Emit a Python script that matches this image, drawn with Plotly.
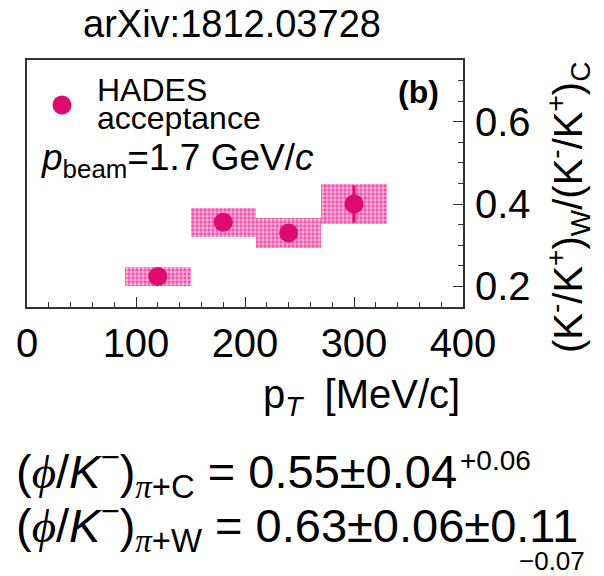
import plotly.graph_objects as go

# ---------------- data ----------------
pt_centers = [120, 180, 240, 300]          # MeV/c
pt_bin_width = [60, 60, 60, 60]            # MeV/c
ratio = [0.224, 0.356, 0.330, 0.400]       # (K-/K+)_W / (K-/K+)_C
stat_err = [0.015, 0.015, 0.015, 0.045]
sys_err = [0.022, 0.035, 0.036, 0.048]

x_ticks = [0, 100, 200, 300, 400]
y_ticks = [0.2, 0.4, 0.6]

MARK = "#DE0A6E"
FONT = "Liberation Sans, Arial, Helvetica, sans-serif"

W, H = 604, 576
L, R, T, B = 27, 463, 60, 307   # plot area in pixels


def px(xp):
    return (xp - L) / (R - L)


def py(yp):
    return (B - yp) / (B - T)


fig = go.Figure()

# systematic boxes
fig.add_trace(go.Bar(
    x=pt_centers,
    y=[2 * s for s in sys_err],
    base=[r - s for r, s in zip(ratio, sys_err)],
    width=pt_bin_width,
    marker=dict(
        color="#FFB3DC",
        line=dict(width=0),
        pattern=dict(shape=".", fgcolor="#F552AC", bgcolor="#FFBEE2",
                     size=4, solidity=0.55, fillmode="replace"),
    ),
    showlegend=False,
    hoverinfo="skip",
))

# points with stat errors
fig.add_trace(go.Scatter(
    x=pt_centers,
    y=ratio,
    mode="markers",
    marker=dict(size=19, color=MARK, line=dict(width=0)),
    error_y=dict(type="data", array=stat_err, color=MARK, thickness=3, width=0),
    showlegend=False,
))

fig.update_layout(
    width=W, height=H,
    margin=dict(l=L, r=W - R, t=T, b=H - B),
    paper_bgcolor="white",
    plot_bgcolor="white",
    barmode="overlay",
    bargap=0,
    font=dict(family=FONT, color="black"),
    xaxis=dict(
        range=[0, 400],
        tickvals=x_ticks,
        ticktext=[str(v) for v in x_ticks],
        ticks="inside", ticklen=10, tickwidth=1.2, tickcolor="#333",
        minor=dict(dtick=20, ticks="inside", ticklen=5, tickwidth=1.2, tickcolor="#333"),
        showline=True, linecolor="#333", linewidth=1.8, mirror=True,
        showgrid=False, zeroline=False,
        tickfont=dict(size=40, family=FONT),
        ticklabelstandoff=0,
    ),
    yaxis=dict(
        range=[0.15, 0.75],
        side="right",
        tickvals=y_ticks,
        ticktext=["0.2", "0.4", "0.6"],
        ticks="inside", ticklen=10, tickwidth=1.2, tickcolor="#333",
        minor=dict(dtick=0.05, tick0=0.0, ticks="inside", ticklen=5, tickwidth=1.2, tickcolor="#333"),
        showline=True, linecolor="#333", linewidth=1.8, mirror=True,
        showgrid=False, zeroline=False,
        tickfont=dict(size=40, family=FONT),
        ticklabelstandoff=2,
    ),
)

# legend marker (circle shape)
cx, cy, rr = 62, 105, 9.5
fig.add_shape(type="circle", xref="paper", yref="paper",
              x0=px(cx - rr), x1=px(cx + rr), y0=py(cy + rr), y1=py(cy - rr),
              fillcolor=MARK, line=dict(width=0))


def ann(text, x, y, size, xanchor="left", yanchor="middle", angle=0, family=FONT):
    fig.add_annotation(text=text, x=px(x), y=py(y), xref="paper", yref="paper",
                       xanchor=xanchor, yanchor=yanchor, showarrow=False,
                       textangle=angle, borderpad=0,
                       font=dict(size=size, family=family, color="black"))


ann("arXiv:1812.03728", 232, 24, 38, xanchor="center")
ann("HADES", 96, 90, 32)
ann("acceptance", 96, 118, 32)
ann("<b>(b)</b>", 440, 92, 32, xanchor="right")
ann("<i>p</i><sub>beam</sub>=1.7 GeV/<i>c</i>", 40, 160, 37)
ann("p<sub><i>T</i></sub>  [MeV/c]", 461, 397, 40, xanchor="right")
ann("(K<sup>-</sup>/K<sup>+</sup>)<sub>W</sub>/(K<sup>-</sup>/K<sup>+</sup>)<sub>C</sub>",
    568, 208, 40, xanchor="center", angle=-90)

phi = '<span style="font-family:Liberation Serif"><i>ϕ</i></span>'
pi_ = '<span style="font-family:Liberation Serif"><i>π</i></span>'
ann(f"({phi}/<i>K</i><sup>−</sup>)<sub>{pi_}+C</sub> = 0.55±0.04", 15, 471, 47)
ann("+0.06", 459, 460, 28)
ann(f"({phi}/<i>K</i><sup>−</sup>)<sub>{pi_}+W</sub> = 0.63±0.06±0.11", 15, 525, 47)
ann("−0.07", 518, 561, 26)

fig.write_html("out.html")
